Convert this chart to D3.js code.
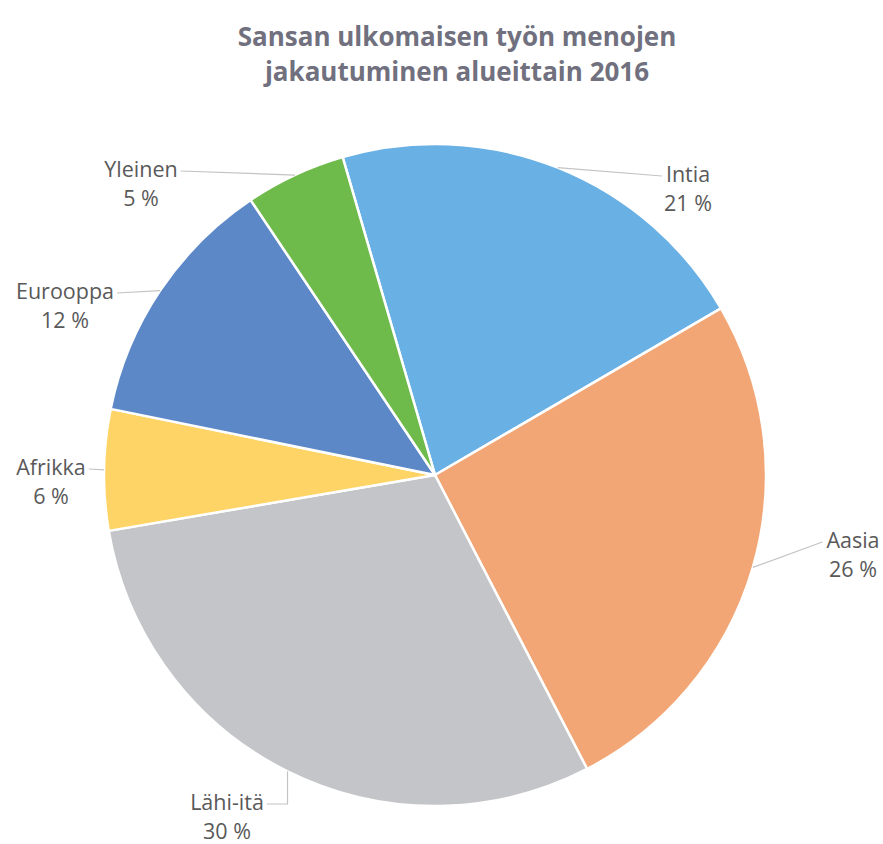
<!DOCTYPE html>
<html>
<head>
<meta charset="utf-8">
<script src="https://cdn.jsdelivr.net/npm/d3@7"></script>
<style>
  body { margin: 0; background: #fff; }
  svg { display: block; }
</style>
</head>
<body>
<div id="chart"></div>
<script>
// data
const regions = ["Intia", "Aasia", "Lähi-itä", "Afrikka", "Eurooppa", "Yleinen"];
const shares = [21.1, 25.8, 29.9, 5.9, 12.4, 4.9];
const percentLabels = ["21 %", "26 %", "30 %", "6 %", "12 %", "5 %"];
const colors = ["#69b0e4", "#f2a675", "#c4c5c9", "#fed466", "#5d88c8", "#6ebb4c"];
const titleLines = ["Sansan ulkomaisen työn menojen", "jakautuminen alueittain 2016"];

const width = 883, height = 844;
const cx = 435, cy = 475, radius = 331;
const startDeg = -16.2;

// label placement (text centre relative to pie centre), Excel "best fit" look
const labelOffsets = [[253, -293], [418, 73], [-208, 335], [-384, 0], [-370, -176], [-294, -298]];

const svg = d3.select("#chart").append("svg")
    .attr("width", width)
    .attr("height", height);

// title
svg.append("g")
    .selectAll("text")
    .data(titleLines)
    .enter()
    .append("text")
    .attr("x", 457)
    .attr("y", (d, i) => 46 + i * 35)
    .attr("text-anchor", "middle")
    .style("font-family", "'Open Sans', sans-serif")
    .style("font-weight", "700")
    .style("font-size", "26px")
    .style("fill", "#70707e")
    .text(d => d);

const pie = d3.pie()
    .sort(null)
    .value(d => d)
    .startAngle(startDeg * Math.PI / 180)
    .endAngle((startDeg + 360) * Math.PI / 180);

const arc = d3.arc().innerRadius(0).outerRadius(radius);
const arcs = pie(shares);

const g = svg.append("g").attr("transform", `translate(${cx}, ${cy})`);

g.selectAll("path")
    .data(arcs)
    .enter()
    .append("path")
    .attr("d", arc)
    .attr("fill", (d, i) => colors[i])
    .attr("stroke", "#fff")
    .attr("stroke-width", 2.5)
    .attr("stroke-linejoin", "round");

// labels
const labels = g.selectAll("g.lbl")
    .data(arcs)
    .enter()
    .append("g")
    .attr("class", "lbl");

labels.each(function (d, i) {
    const sel = d3.select(this);
    const [lx, ly] = labelOffsets[i];
    const t = sel.append("text")
        .attr("text-anchor", "middle")
        .style("font-family", "'Open Sans', sans-serif")
        .style("font-size", "21.5px")
        .style("fill", "#595959");
    t.append("tspan").attr("x", lx).attr("y", ly).text(regions[i]);
    t.append("tspan").attr("x", lx).attr("y", ly + 29).text(percentLabels[i]);

    const w = t.select("tspan").node().getComputedTextLength();
    const mid = (d.startAngle + d.endAngle) / 2;
    const ax = radius * Math.sin(mid), ay = -radius * Math.cos(mid);
    const leftSide = lx < ax;
    const ex = leftSide ? lx + w / 2 + 3 : lx - w / 2 - 4;
    const ey = ly - 6;
    let pts;
    if (Math.abs(ex - ax) < 40 && Math.abs(ey - ay) > 20) {
        pts = [[ax, ay], [ax, ey], [ex, ey]];
    } else {
        pts = [[ax, ay], [ex, ey]];
    }
    sel.insert("path", "text")
        .attr("d", d3.line()(pts))
        .attr("fill", "none")
        .attr("stroke", "#c3c3c3")
        .attr("stroke-width", 1.2);
});
</script>
</body>
</html>
